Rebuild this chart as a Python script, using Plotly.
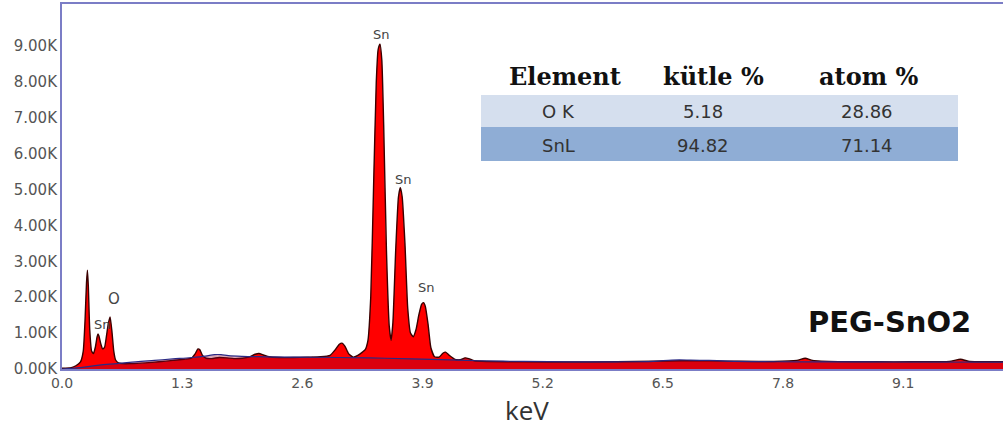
import plotly.graph_objects as go

# EDS spectrum of PEG-SnO2 (energy in keV, intensity in counts)
energy_keV = [0.00, 0.10, 0.15, 0.20, 0.23, 0.25, 0.265, 0.275, 0.285, 0.30, 0.32, 0.34,
              0.36, 0.38, 0.39, 0.40, 0.42, 0.44, 0.46, 0.48, 0.50, 0.52, 0.54, 0.56,
              0.58, 0.61, 0.65, 0.75, 0.90, 1.05, 1.20, 1.32, 1.40, 1.44, 1.47, 1.49,
              1.52, 1.56, 1.62, 1.70, 1.78, 1.86, 1.95, 2.03, 2.09, 2.13, 2.18, 2.24,
              2.35, 2.50, 2.65, 2.80, 2.90, 2.96, 3.00, 3.03, 3.06, 3.10, 3.15, 3.20,
              3.25, 3.28, 3.31, 3.34, 3.37, 3.40, 3.42, 3.44, 3.46, 3.48, 3.51, 3.54,
              3.56, 3.58, 3.61, 3.64, 3.66, 3.68, 3.71, 3.74, 3.77, 3.80, 3.83, 3.86,
              3.89, 3.91, 3.93, 3.96, 3.99, 4.03, 4.08, 4.12, 4.15, 4.19, 4.25, 4.31,
              4.36, 4.40, 4.46, 4.60, 5.00, 5.50, 6.00, 6.40, 6.70, 7.00, 7.30, 7.70,
              7.95, 8.04, 8.12, 8.40, 8.80, 9.20, 9.60, 9.72, 9.82, 10.00, 10.20]
counts = [20, 40, 90, 200, 500, 1400, 2400, 2750, 2300, 1100, 500, 430,
          600, 900, 980, 920, 700, 560, 600, 900, 1250, 1450, 1050, 500,
          250, 170, 150, 150, 170, 200, 240, 270, 300, 420, 560, 540,
          380, 300, 290, 320, 310, 290, 300, 340, 410, 430, 390, 340,
          320, 320, 330, 340, 380, 550, 690, 720, 640, 430, 330, 380,
          470, 540, 800, 2000, 5000, 8000, 8900, 9050, 8600, 6800, 3300, 1200,
          800, 1300, 3300, 4800, 5050, 4800, 3500, 1700, 1000, 900, 1100, 1500,
          1800, 1850, 1750, 1250, 600, 340, 330, 440, 470, 380, 270, 260,
          310, 290, 230, 210, 200, 195, 200, 215, 230, 225, 215, 210,
          240, 300, 240, 205, 200, 200, 210, 270, 210, 200, 200]

# fitted background continuum
bg_keV = [0.0, 0.2, 0.4, 0.6, 0.8, 1.0, 1.2, 1.4, 1.55, 1.65, 1.72, 1.8, 1.95, 2.2,
          2.6, 3.0, 3.5, 4.0, 4.5, 5.0, 5.5, 6.0, 6.4, 6.6, 6.8, 7.0, 7.2, 7.6, 8.0,
          9.0, 10.2]
bg_counts = [0, 40, 110, 150, 200, 240, 280, 320, 360, 400, 400, 370, 350, 340,
             330, 320, 300, 270, 230, 210, 200, 200, 215, 250, 250, 240, 220, 205,
             200, 195, 190]

# peak identification labels
peak_labels = ["Sn", "O", "Sn", "Sn", "Sn"]
peak_keV = [0.39, 0.52, 3.44, 3.66, 3.91]

# axis ticks
x_tickvals = [0.0, 1.3, 2.6, 3.9, 5.2, 6.5, 7.8, 9.1]
x_ticktext = ["0.0", "1.3", "2.6", "3.9", "5.2", "6.5", "7.8", "9.1"]
y_tickvals = [0, 1000, 2000, 3000, 4000, 5000, 6000, 7000, 8000, 9000]
y_ticktext = ["0.00K", "1.00K", "2.00K", "3.00K", "4.00K", "5.00K", "6.00K",
              "7.00K", "8.00K", "9.00K"]

# quantification table
table_header = ["Element", "kütle %", "atom %"]
table_element = ["O K", "SnL"]
table_mass = ["5.18", "94.82"]
table_atom = ["28.86", "71.14"]

W, H = 1003, 432
ML, MR, MT, MB = 62, 0, 4, 63
PW, PH = W - ML - MR, H - MT - MB


def px_x(p):
    return (p - ML) / PW


def px_y(p):
    return (H - MB - p) / PH


fig = go.Figure()

fig.add_trace(go.Scatter(
    x=energy_keV, y=counts, mode="lines", fill="tozeroy",
    fillcolor="#ff0000", line=dict(color="#3a0000", width=1.4, shape="spline", smoothing=0.5),
    hoverinfo="skip", showlegend=False))

fig.add_trace(go.Scatter(
    x=bg_keV, y=bg_counts, mode="lines", fill="tozeroy",
    fillcolor="rgba(150,0,40,0.35)", line=dict(color="#2a2a85", width=1.2, shape="spline"),
    hoverinfo="skip", showlegend=False))

annotations = []

# element labels above peaks
shifts = {"0.39": (4, 9), "0.52": (4, 18), "3.44": (2, 10), "3.66": (3, 8), "3.91": (3, 15)}
for txt, k in zip(peak_labels, peak_keV):
    dx, dy = shifts[f"{k:.2f}"]
    annotations.append(dict(
        x=k, y=counts[energy_keV.index(k)], xref="x", yref="y", text=txt,
        showarrow=False, xshift=dx, yshift=dy, yanchor="middle",
        font=dict(family="DejaVu Sans", size=15 if txt == "O" else 13, color="#444")))

# table rows
shapes = [
    dict(type="rect", xref="paper", yref="paper", x0=px_x(481), x1=px_x(958),
         y0=px_y(127), y1=px_y(95), fillcolor="#d5dfee", line=dict(width=0), layer="above"),
    dict(type="rect", xref="paper", yref="paper", x0=px_x(481), x1=px_x(958),
         y0=px_y(161), y1=px_y(127), fillcolor="#8fadd5", line=dict(width=0), layer="above"),
]

header_x = [565, 713, 868]
col_x = [558, 703, 867]
for h, cx in zip(table_header, header_x):
    annotations.append(dict(
        x=px_x(cx), y=px_y(77), xref="paper", yref="paper", text=f"<b>{h}</b>",
        showarrow=False, xanchor="center", yanchor="middle",
        font=dict(family="DejaVu Serif", size=24, color="#111")))

for row, ry in enumerate([111, 145]):
    for vals, cx in zip([table_element, table_mass, table_atom], col_x):
        annotations.append(dict(
            x=px_x(cx), y=px_y(ry), xref="paper", yref="paper", text=vals[row],
            showarrow=False, xanchor="center", yanchor="middle",
            font=dict(family="DejaVu Sans", size=18, color="#333")))

# sample name
annotations.append(dict(
    x=px_x(889), y=px_y(322), xref="paper", yref="paper", text="<b>PEG-SnO2</b>",
    showarrow=False, xanchor="center", yanchor="middle",
    font=dict(family="DejaVu Sans", size=29, color="#111")))

# x-axis title
annotations.append(dict(
    x=px_x(527), y=px_y(410), xref="paper", yref="paper", text="keV",
    showarrow=False, xanchor="center", yanchor="middle",
    font=dict(family="Open Sans", size=26, color="#333")))

fig.update_layout(
    width=W, height=H,
    margin=dict(l=ML, r=MR, t=MT, b=MB, pad=0),
    paper_bgcolor="white", plot_bgcolor="white",
    annotations=annotations, shapes=shapes,
    xaxis=dict(range=[0, 10.18], tickvals=x_tickvals, ticktext=x_ticktext,
               showgrid=False, zeroline=False, showline=True, mirror=True,
               linecolor="#7b7dc6", linewidth=2, ticks="",
               tickfont=dict(family="DejaVu Sans", size=14, color="#555")),
    yaxis=dict(range=[0, 10170], tickvals=y_tickvals, ticktext=y_ticktext,
               showgrid=False, zeroline=False, showline=True,
               linecolor="#7b7dc6", linewidth=2, ticks="",
               tickfont=dict(family="DejaVu Sans", size=15, color="#555")),
)

fig.write_html("out.html")
